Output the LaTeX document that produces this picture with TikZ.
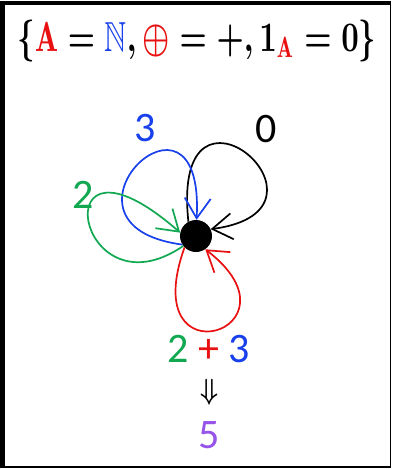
\documentclass[tikz,border=0pt]{standalone}
\usepackage{fontspec}
\usepackage{amssymb}
\usetikzlibrary{arrows.meta}
\newfontfamily\digitfont{Carlito}
\definecolor{cred}{RGB}{232,16,16}
\definecolor{cblue}{RGB}{24,64,236}
\definecolor{cgreen}{RGB}{16,168,80}
\definecolor{cpurple}{RGB}{150,84,232}
\tikzset{
  looparc/.style={line width=1.7pt, -{Straight Barb[length=20pt,width=26pt,line width=1.7pt]}},
  numlabel/.style={font=\digitfont\fontsize{42}{44}\selectfont, inner sep=0pt},
}
\begin{document}
\begin{tikzpicture}[x=1pt,y=-1pt]
\useasboundingbox (0,0) rectangle (393,469);
% frame
\fill[black] (0,1) rectangle (391,468);
\fill[white] (5,5) rectangle (389.5,465.5);
% title
\node[inner sep=0pt] (title) at (197,41) {\resizebox*{359pt}{42pt}{\boldmath$\{{\color{cred}\mathrm{A}} = {\color{cblue}\mathbb{N}}, {\color{cred}\oplus} = +, 1_{\color{cred}\mathrm{A}} = 0\}$}};
% dot
\node[circle, fill=black, minimum size=32pt, inner sep=0pt] (dot) at (196,236) {};
% loops
\draw[looparc, black] (dot.118) .. controls (170,50) and (355,210) .. (dot.25);
\draw[looparc, cblue] (dot.212) .. controls (35,225) and (205,60) .. (dot.88);
\draw[looparc, cgreen] (dot.218) .. controls (75,320) and (40,110) .. (dot.168);
\draw[looparc, cred] (dot.225) .. controls (135,385) and (310,330) .. (dot.305);
% labels
\node[numlabel, text=cblue] (l3) at (145,128) {3};
\node[numlabel, text=black] (l0) at (266,129) {0};
\node[numlabel, text=cgreen] (l2) at (83,195) {2};
\node[numlabel] (sum) at (209,349) {{\color{cgreen}2} {\color{cred}+} {\color{cblue}3}};
\node[inner sep=0pt] (imp) at (209,392) {\resizebox*{18pt}{26pt}{\boldmath$\Downarrow$}};
\node[numlabel, text=cpurple] (l5) at (209,435) {5};
\end{tikzpicture}
\end{document}
